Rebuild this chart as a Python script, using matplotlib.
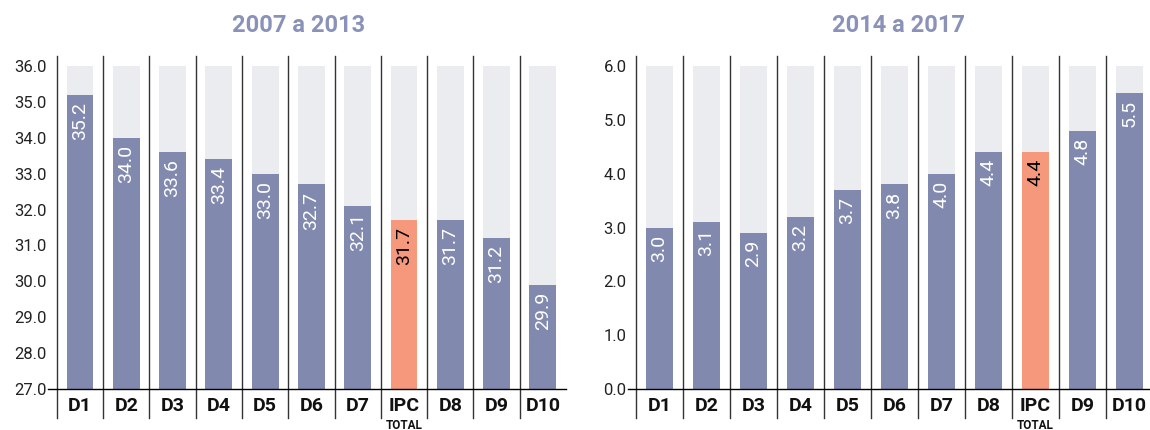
import matplotlib
matplotlib.use("Agg")
import matplotlib.pyplot as plt

plt.rcParams['font.family'] = ['Roboto', 'DejaVu Sans']

# Variación del ingreso por decil
left_title = "2007 a 2013"
left_cats = ["D1", "D2", "D3", "D4", "D5", "D6", "D7", "IPC", "D8", "D9", "D10"]
left_vals = [35.2, 34.0, 33.6, 33.4, 33.0, 32.7, 32.1, 31.7, 31.7, 31.2, 29.9]
left_ticks = [27.0, 28.0, 29.0, 30.0, 31.0, 32.0, 33.0, 34.0, 35.0, 36.0]

right_title = "2014 a 2017"
right_cats = ["D1", "D2", "D3", "D4", "D5", "D6", "D7", "D8", "IPC", "D9", "D10"]
right_vals = [3.0, 3.1, 2.9, 3.2, 3.7, 3.8, 4.0, 4.4, 4.4, 4.8, 5.5]
right_ticks = [0.0, 1.0, 2.0, 3.0, 4.0, 5.0, 6.0]

BAR = "#8189AE"
BG = "#EBECF0"
HIGHLIGHT = "#F5987C"
TITLE = "#8A92B9"
W, H = 1150, 430


def draw_panel(fig, rect, cats, vals, ticks, xlim, title, title_x):
    ax = fig.add_axes(rect)
    lo, hi = ticks[0], ticks[-1]
    xs = [i + 0.5 for i in range(len(cats))]

    # full-height background columns, then the values on top
    ax.bar(xs, [hi - lo] * len(cats), bottom=lo, width=0.58, color=BG, zorder=1)
    colors = [HIGHLIGHT if c == "IPC" else BAR for c in cats]
    ax.bar(xs, [v - lo for v in vals], bottom=lo, width=0.58, color=colors, zorder=2)

    for x, v, c in zip(xs, vals, cats):
        ax.annotate(f"{v:.1f}", (x, v), xytext=(0, -5), textcoords="offset points",
                    rotation=90, ha="center", va="top", fontsize=14,
                    color="black" if c == "IPC" else "white", zorder=3)

    # column separators reaching above and below the plot area
    for i in range(len(cats)):
        ax.axvline(i, ymin=-0.09, ymax=1.031, color="#333333", lw=1.0,
                   clip_on=False, zorder=0)

    ax.set_xlim(*xlim)
    ax.set_ylim(lo, hi)
    ax.set_yticks(ticks)
    ax.set_yticklabels([f"{t:.1f}" for t in ticks], fontsize=12, color="#222222")
    ax.tick_params(axis="y", length=0, pad=1)
    ax.set_xticks(xs)
    ax.set_xticklabels(cats, fontsize=14, fontweight="bold", color="#111111")
    ax.tick_params(axis="x", length=0, pad=6)

    for s in ["top", "left", "right"]:
        ax.spines[s].set_visible(False)
    ax.spines["bottom"].set_color("black")
    ax.spines["bottom"].set_linewidth(1.0)
    ax.spines["bottom"].set_zorder(4)

    ipc = cats.index("IPC")
    ax.annotate("TOTAL", (xs[ipc], lo), xytext=(0, -26), textcoords="offset points",
                ha="center", va="center", fontsize=8.5, fontweight="bold",
                color="#111111", annotation_clip=False)

    fig.text(title_x / W, 1 - 26 / H, title, ha="center", va="center",
             fontsize=17, fontweight="bold", color=TITLE)
    return ax


fig = plt.figure(figsize=(W / 100, H / 100), dpi=100)
bottom = (H - 389) / H
height = (389 - 66) / H

draw_panel(fig, [48 / W, bottom, (566 - 48) / W, height],
           left_cats, left_vals, left_ticks, (-0.19, 11.0), left_title, 299)
draw_panel(fig, [628 / W, bottom, (1150 - 628) / W, height],
           right_cats, right_vals, right_ticks, (-0.17, 10.94), right_title, 898)

fig.savefig("out.png", dpi=100)
